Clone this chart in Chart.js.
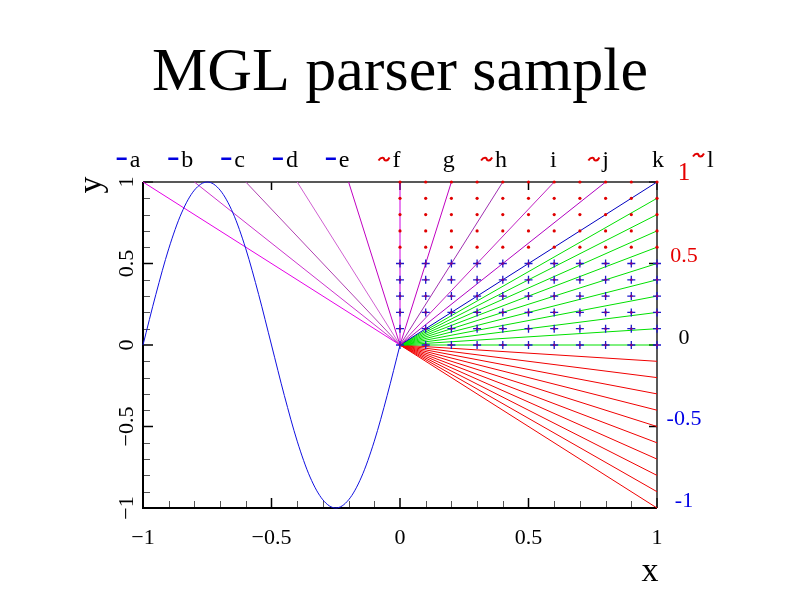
<!DOCTYPE html>
<html><head><meta charset="utf-8">
<script src="https://cdn.jsdelivr.net/npm/chart.js@4.4.0/dist/chart.umd.min.js"></script>
<style>html,body{margin:0;padding:0;background:#fff}#wrap{width:800px;height:600px}</style>
</head><body><div id="wrap"><canvas id="c" width="800" height="600"></canvas></div>
<script>
const titleText = 'MGL parser sample';
const xTitle = 'x';
const yTitle = 'y';
const majorTicks = [-1, -0.5, 0, 0.5, 1];
const minorTicks = [-0.9, -0.8, -0.7, -0.6, -0.4, -0.3, -0.2, -0.1, 0.1, 0.2, 0.3, 0.4, 0.6, 0.7, 0.8, 0.9];
const xTickLabels = ['−1', '−0.5', '0', '0.5', '1'];
const yTickLabels = ['−1', '−0.5', '0', '0.5', '1'];
const rightTickLabels = ['-1', '-0.5', '0', '0.5', '1'];
const rightTickColors = ['#0000e6', '#0000e6', '#000000', '#e60000', '#e60000'];
const legendNames = ['a', 'b', 'c', 'd', 'e', 'f', 'g', 'h', 'i', 'j', 'k', 'l'];
const legendMarks = ['-', '-', '-', '-', '-', '~', '', '~', '', '~', '', '~'];
const legendMarkColors = ['#0000e0', '#0000e0', '#0000e0', '#0000e0', '#0000e0', '#e00000', '', '#e00000', '', '#e00000', '', '#e00000'];

const sineX = [-1, -0.95, -0.9, -0.85, -0.8, -0.75, -0.7, -0.65, -0.6, -0.55, -0.5, -0.45, -0.4, -0.35, -0.3, -0.25, -0.2, -0.15, -0.1, -0.05, 0];
const sineY = [0, 0.31, 0.59, 0.81, 0.95, 1, 0.95, 0.81, 0.59, 0.31, 0, -0.31, -0.59, -0.81, -0.95, -1, -0.95, -0.81, -0.59, -0.31, 0];

const fanTopX = [-1, -0.8, -0.6, -0.4, -0.2, 0, 0.2, 0.4, 0.6, 0.8];
const fanTopColors = ['#e600e6', '#cc33cc', '#b040b0', '#d060d0', '#c000c0', '#d000e0', '#c000c0', '#a030b0', '#c020c0', '#b000c0'];
const fanCornerX = [1];
const fanGreenY = [0.9, 0.8, 0.7, 0.6, 0.5, 0.4, 0.3, 0.2, 0.1, 0];
const fanRedY = [-0.1, -0.2, -0.3, -0.4, -0.5, -0.6, -0.7, -0.8, -0.9, -1];

const gridX = [0, 0.1, 0.2, 0.3, 0.4, 0.5, 0.6, 0.7, 0.8, 0.9, 1];
const dotRowsY = [0.6, 0.7, 0.8, 0.9, 1];
const crossRowsY = [0, 0.1, 0.2, 0.3, 0.4, 0.5];

const SERIF = "'Liberation Serif', 'Times New Roman', 'DejaVu Serif', serif";

const datasets = [];
const crossPts = gridX.flatMap(x => crossRowsY.map(y => ({x, y})));
const dotPts = gridX.flatMap(x => dotRowsY.map(y => ({x, y})));
datasets.push({label: 'centres', data: crossPts, showLine: false, pointStyle: 'circle', pointRadius: 1.3, pointBackgroundColor: '#800080', pointBorderWidth: 0, clip: false});
datasets.push({label: 'crosses', data: crossPts, showLine: false, pointStyle: 'cross', pointRadius: 4, pointBorderColor: '#1a1ad0', pointBorderWidth: 1.3, clip: false});
datasets.push({label: 'dots', data: dotPts, showLine: false, pointStyle: 'circle', pointRadius: 1.6, pointBackgroundColor: '#e00000', pointBorderWidth: 0, clip: false});
datasets.push({label: 'sine', data: sineX.map((x, i) => ({x, y: sineY[i]})), showLine: true, borderColor: '#1010e0', borderWidth: 1, pointRadius: 0, cubicInterpolationMode: 'monotone', clip: false});
fanTopX.forEach((fx, i) => datasets.push({label: 'm' + i, data: [{x: 0, y: 0}, {x: fx, y: 1}], showLine: true, borderColor: fanTopColors[i], borderWidth: 1, pointRadius: 0, clip: false}));
fanCornerX.forEach(fx => datasets.push({label: 'diag', data: [{x: 0, y: 0}, {x: fx, y: 1}], showLine: true, borderColor: '#0000c0', borderWidth: 1, pointRadius: 0, clip: false}));
fanGreenY.forEach((fy, i) => datasets.push({label: 'g' + i, data: [{x: 0, y: 0}, {x: 1, y: fy}], showLine: true, borderColor: '#00e000', borderWidth: 1, pointRadius: 0, clip: false}));
fanRedY.forEach((fy, i) => datasets.push({label: 'r' + i, data: [{x: 0, y: 0}, {x: 1, y: fy}], showLine: true, borderColor: '#f00000', borderWidth: 1, pointRadius: 0, clip: false}));

const decor = {
  id: 'decor',
  beforeDatasetsDraw(chart) {
    const ctx = chart.ctx, xs = chart.scales.x, ys = chart.scales.y;
    const {left, right, top, bottom} = chart.chartArea;
    ctx.save();
    // minor ticks bottom/left
    ctx.strokeStyle = '#555';
    ctx.lineWidth = 1;
    ctx.beginPath();
    minorTicks.forEach(v => {
      const px = Math.round(xs.getPixelForValue(v)) + 0.5;
      ctx.moveTo(px, bottom); ctx.lineTo(px, bottom - 7);
      const py = Math.round(ys.getPixelForValue(v)) + 0.5;
      ctx.moveTo(left, py); ctx.lineTo(left + 7, py);
    });
    ctx.stroke();
    // major ticks
    ctx.strokeStyle = '#000';
    ctx.lineWidth = 1.5;
    ctx.beginPath();
    majorTicks.forEach(v => {
      const px = xs.getPixelForValue(v);
      const py = ys.getPixelForValue(v);
      ctx.moveTo(px, bottom); ctx.lineTo(px, bottom - 10);
      ctx.moveTo(left, py); ctx.lineTo(left + 10, py);
      ctx.moveTo(px, top); ctx.lineTo(px, top + 8);
      ctx.moveTo(right, py); ctx.lineTo(right - 8, py);
    });
    ctx.stroke();
    // frame
    ctx.lineWidth = 1.5;
    ctx.strokeStyle = '#222';
    ctx.beginPath();
    ctx.moveTo(left, top); ctx.lineTo(right, top); ctx.lineTo(right, bottom);
    ctx.stroke();
    ctx.lineWidth = 2;
    ctx.strokeStyle = '#000';
    ctx.beginPath();
    ctx.moveTo(left, top); ctx.lineTo(left, bottom); ctx.lineTo(right, bottom);
    ctx.stroke();
    ctx.restore();
  },
  afterDraw(chart) {
    const ctx = chart.ctx, xs = chart.scales.x, ys = chart.scales.y;
    const {left, right, top, bottom} = chart.chartArea;
    ctx.save();
    // title
    ctx.fillStyle = '#000';
    ctx.textAlign = 'center';
    ctx.textBaseline = 'alphabetic';
    ctx.font = '62px ' + SERIF;
    ctx.fillText(titleText, (left + right) / 2, 90);
    // bottom tick labels
    ctx.font = '22px ' + SERIF;
    ctx.textBaseline = 'middle';
    majorTicks.forEach((v, i) => ctx.fillText(xTickLabels[i], xs.getPixelForValue(v), bottom + 30));
    // left tick labels rotated
    majorTicks.forEach((v, i) => {
      ctx.save();
      ctx.translate(left - 16, ys.getPixelForValue(v));
      ctx.rotate(-Math.PI / 2);
      ctx.fillText(yTickLabels[i], 0, 0);
      ctx.restore();
    });
    // right tick labels coloured
    majorTicks.forEach((v, i) => {
      ctx.fillStyle = rightTickColors[i];
      ctx.font = (v === 1 ? '25px ' : '22px ') + SERIF;
      ctx.fillText(rightTickLabels[i], right + 27, ys.getPixelForValue(v) - (v === 1 ? 9 : 7));
    });
    // axis titles
    ctx.fillStyle = '#000';
    ctx.font = '34px ' + SERIF;
    ctx.fillText(xTitle, right - 7, bottom + 64);
    ctx.save();
    ctx.translate(left - 51, top + 3);
    ctx.rotate(-Math.PI / 2);
    ctx.fillText(yTitle, 0, 0);
    ctx.restore();
    // legend
    ctx.font = '24px ' + SERIF;
    ctx.textBaseline = 'alphabetic';
    legendNames.forEach((name, i) => {
      const cx = 135 + i * 52.3;
      const w = ctx.measureText(name).width;
      ctx.fillStyle = '#000';
      ctx.textAlign = 'center';
      ctx.fillText(name, cx, 167);
      const mx = cx - w / 2 - 3;
      if (legendMarks[i] === '-') {
        ctx.fillStyle = legendMarkColors[i];
        ctx.fillRect(mx - 10, 157.5, 10, 2.5);
      } else if (legendMarks[i] === '~') {
        ctx.strokeStyle = legendMarkColors[i];
        ctx.lineWidth = 2;
        const yy = (i === 11) ? 155 : 159;
        ctx.beginPath();
        ctx.moveTo(mx - 11, yy + 1.5);
        ctx.bezierCurveTo(mx - 8, yy - 3, mx - 5, yy - 1, mx - 5.5, yy);
        ctx.bezierCurveTo(mx - 5, yy + 2, mx - 2, yy + 2.5, mx, yy - 1.5);
        ctx.stroke();
      }
    });
    ctx.restore();
  }
};

new Chart(document.getElementById('c'), {
  type: 'scatter',
  data: {datasets},
  options: {
    responsive: false,
    animation: false,
    devicePixelRatio: 1,
    events: [],
    layout: {padding: {left: 143, right: 143, top: 182, bottom: 92}},
    plugins: {legend: {display: false}, tooltip: {enabled: false}, title: {display: false}},
    scales: {
      x: {type: 'linear', min: -1, max: 1, display: false},
      y: {type: 'linear', min: -1, max: 1, display: false}
    }
  },
  plugins: [decor]
});
</script>
</body></html>
